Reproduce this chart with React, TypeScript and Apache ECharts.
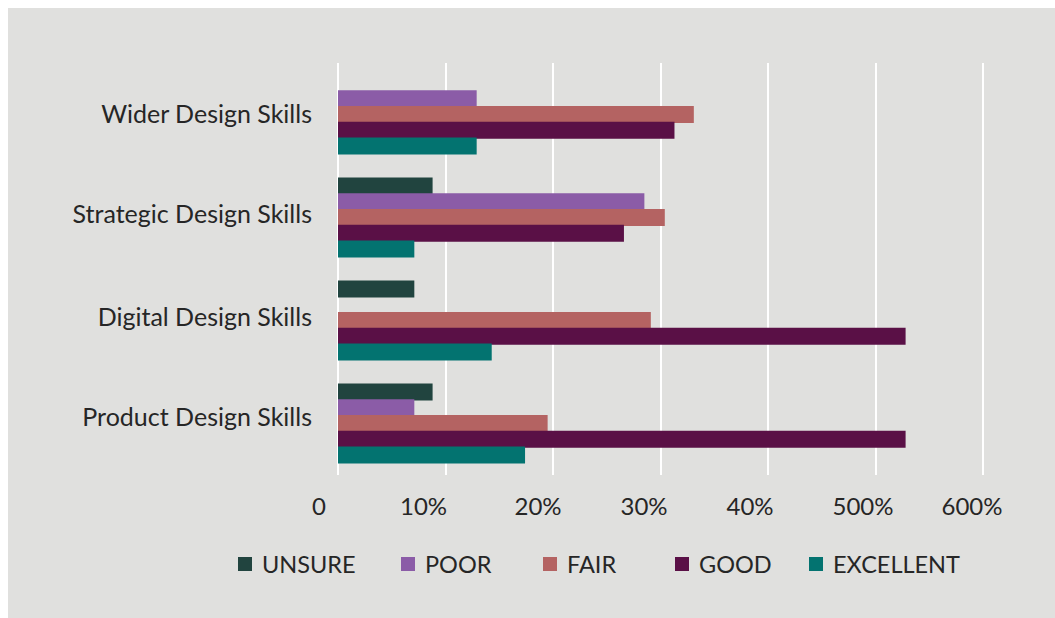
import React, { useEffect, useRef } from "react";
import * as echarts from "echarts";

// Survey categories, bottom to top on the y axis
const categories = [
  "Product Design Skills",
  "Digital Design Skills",
  "Strategic Design Skills",
  "Wider Design Skills",
];

// Share of responses (%) per rating, in category order
const unsure = [8.8, 7.1, 8.8, 0];
const poor = [7.1, 0, 28.5, 12.9];
const fair = [19.5, 29.1, 30.4, 33.1];
const good = [52.8, 52.8, 26.6, 31.3];
const excellent = [17.4, 14.3, 7.1, 12.9];

const seriesNames = ["UNSURE", "POOR", "FAIR", "GOOD", "EXCELLENT"];
const seriesData = [unsure, poor, fair, good, excellent];
const seriesColors = ["#21443f", "#8b5ca7", "#b46362", "#5a1046", "#037370"];

// Tick labels printed under the value axis
const tickLabels = ["0", "10%", "20%", "30%", "40%", "500%", "600%"];

// Per-label nudges (px of right padding) for the tick labels
const tickPadRight = [38, 44, 30, 33, 36, 25, 22];
// Per-label lift (px of bottom padding) for the category labels
const catPadBottom = [16, 10, 10, 4];

// Left edge of each legend entry
const legendLefts = [230, 393, 535, 667, 801];

const FONT = "Lato";
const TEXT = "#262626";

export default function App() {
  const ref = useRef<HTMLDivElement>(null);

  useEffect(() => {
    if (!ref.current) return;
    const chart = echarts.init(ref.current, null, { renderer: "svg" });

    const legends = seriesNames.map((name, i) => ({
      data: [name],
      left: legendLefts[i],
      top: 544,
      padding: 0,
      icon: "rect",
      itemWidth: 14,
      itemHeight: 14,
      selectedMode: false,
      textStyle: {
        color: TEXT,
        fontFamily: FONT,
        fontSize: 23.5,
        padding: [0, 0, 0, 5],
      },
    }));

    const tickRich: Record<string, object> = {};
    tickLabels.forEach((_, i) => {
      tickRich["t" + i] = {
        color: TEXT,
        fontFamily: FONT,
        fontSize: 24,
        padding: [0, tickPadRight[i], 0, 0],
      };
    });

    const catRich: Record<string, object> = {};
    categories.forEach((_, i) => {
      catRich["c" + i] = {
        color: TEXT,
        fontFamily: FONT,
        fontSize: 25,
        padding: [0, 0, catPadBottom[i], 0],
      };
    });

    chart.setOption({
      animation: false,
      backgroundColor: "#e0e0de",
      textStyle: { fontFamily: FONT },
      grid: { left: 330, top: 55, width: 645, height: 412, containLabel: false },
      legend: legends,
      xAxis: {
        type: "value",
        min: 0,
        max: 60,
        interval: 10,
        axisLine: { show: false },
        axisTick: { show: false },
        splitLine: { show: true, lineStyle: { color: "#ffffff", width: 2 } },
        axisLabel: {
          margin: 18,
          rich: tickRich,
          formatter: (v: number) => {
            const i = Math.round(v / 10);
            return tickLabels[i] !== undefined ? `{t${i}|${tickLabels[i]}}` : "";
          },
        },
      },
      yAxis: {
        type: "category",
        data: categories,
        axisLine: { show: false },
        axisTick: { show: false },
        splitLine: { show: false },
        axisLabel: {
          margin: 26,
          rich: catRich,
          formatter: (v: string) => `{c${categories.indexOf(v)}|${v}}`,
        },
      },
      series: seriesNames.map((name, i) => ({
        name,
        type: "bar",
        data: seriesData[i],
        barWidth: 17,
        barGap: "-7%",
        itemStyle: { color: seriesColors[i] },
      })),
    });

    return () => chart.dispose();
  }, []);

  return (
    <div
      ref={ref}
      style={{
        position: "fixed",
        left: 8,
        top: 8,
        width: 1047,
        height: 610,
        background: "#e0e0de",
      }}
    />
  );
}
